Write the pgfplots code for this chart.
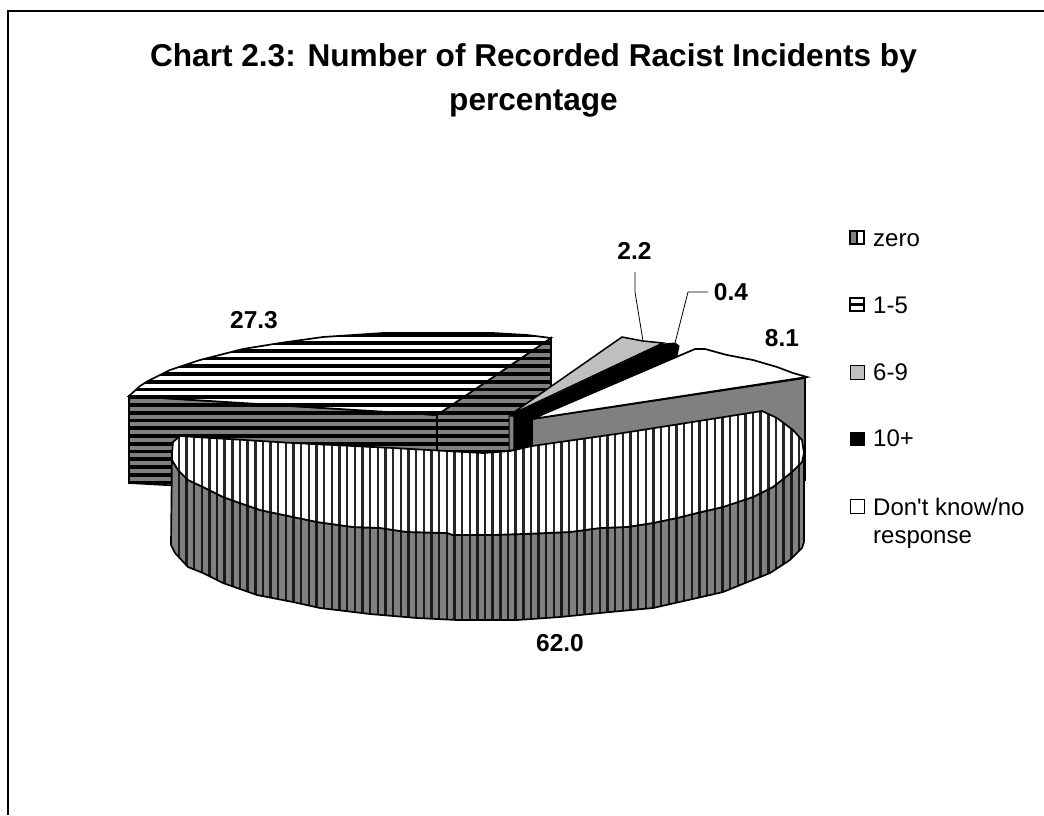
\documentclass[border=0pt]{standalone}
\usepackage{fontspec}
\setmainfont{Liberation Sans}[Ligatures=TeXOff]
\usepackage{pgfplots}
\pgfplotsset{compat=1.18}
\definecolor{sidegray}{gray}{0.5}
\definecolor{sixnine}{gray}{0.75}
\tikzset{
  valuelabel/.style={anchor=base,font=\fontsize{24.5}{28}\selectfont\bfseries},
  legendlabel/.style={anchor=base west,inner sep=0pt,font=\fontsize{24}{28}\selectfont},
  titleline/.style={anchor=base,font=\fontsize{31.6}{36}\selectfont\bfseries},
}
% hatching of the pie faces, one zigzag per direction; the turns lie outside the clipped faces
\newcommand{\vertstripes}[1]{\addplot[#1] coordinates {
(171.0,395)(171.0,630)(178.7,630)(178.7,395)(186.4,395)(186.4,630)(194.0,630)(194.0,395)(201.7,395)(201.7,630)
(209.3,630)(209.3,395)(217.0,395)(217.0,630)(224.6,630)(224.6,395)(232.3,395)(232.3,630)(239.9,630)(239.9,395)
(247.6,395)(247.6,630)(255.3,630)(255.3,395)(262.9,395)(262.9,630)(270.6,630)(270.6,395)(278.2,395)(278.2,630)
(285.9,630)(285.9,395)(293.6,395)(293.6,630)(301.2,630)(301.2,395)(308.9,395)(308.9,630)(316.5,630)(316.5,395)
(324.2,395)(324.2,630)(331.8,630)(331.8,395)(339.5,395)(339.5,630)(347.2,630)(347.2,395)(354.8,395)(354.8,630)
(362.5,630)(362.5,395)(370.1,395)(370.1,630)(377.8,630)(377.8,395)(385.4,395)(385.4,630)(393.1,630)(393.1,395)
(400.8,395)(400.8,630)(408.4,630)(408.4,395)(416.1,395)(416.1,630)(423.7,630)(423.7,395)(431.4,395)(431.4,630)
(439.0,630)(439.0,395)(446.7,395)(446.7,630)(454.4,630)(454.4,395)(462.0,395)(462.0,630)(469.7,630)(469.7,395)
(477.3,395)(477.3,630)(485.0,630)(485.0,395)(492.6,395)(492.6,630)(500.3,630)(500.3,395)(508.0,395)(508.0,630)
(515.6,630)(515.6,395)(523.3,395)(523.3,630)(530.9,630)(530.9,395)(538.6,395)(538.6,630)(546.2,630)(546.2,395)
(553.9,395)(553.9,630)(561.6,630)(561.6,395)(569.2,395)(569.2,630)(576.9,630)(576.9,395)(584.5,395)(584.5,630)
(592.2,630)(592.2,395)(599.8,395)(599.8,630)(607.5,630)(607.5,395)(615.2,395)(615.2,630)(622.8,630)(622.8,395)
(630.5,395)(630.5,630)(638.1,630)(638.1,395)(645.8,395)(645.8,630)(653.4,630)(653.4,395)(661.1,395)(661.1,630)
(668.8,630)(668.8,395)(676.4,395)(676.4,630)(684.1,630)(684.1,395)(691.7,395)(691.7,630)(699.4,630)(699.4,395)
(707.0,395)(707.0,630)(714.7,630)(714.7,395)(722.4,395)(722.4,630)(730.0,630)(730.0,395)(737.7,395)(737.7,630)
(745.3,630)(745.3,395)(753.0,395)(753.0,630)(760.6,630)(760.6,395)(768.3,395)(768.3,630)(776.0,630)(776.0,395)
(783.6,395)(783.6,630)(791.3,630)(791.3,395)(798.9,395)(798.9,630)};}
\newcommand{\horizstripes}[1]{\addplot[#1] coordinates {
(120,335.25)(560,335.25)(560,343.0)(120,343.0)(120,350.75)(560,350.75)(560,358.5)(120,358.5)
(120,366.25)(560,366.25)(560,374.0)(120,374.0)(120,381.75)(560,381.75)(560,389.5)(120,389.5)
(120,397.25)(560,397.25)(560,405.0)(120,405.0)(120,412.75)(560,412.75)(560,420.5)(120,420.5)
(120,428.25)(560,428.25)(560,436.0)(120,436.0)(120,443.75)(560,443.75)(560,451.5)(120,451.5)
(120,459.25)(560,459.25)(560,467.0)(120,467.0)(120,474.75)(560,474.75)(560,482.5)(120,482.5)};}
\begin{document}
\begin{tikzpicture}
\begin{axis}[
  scale only axis,width=1044pt,height=815pt,
  xmin=0,xmax=1044,ymin=0,ymax=815,y dir=reverse,
  axis lines=none,enlargelimits=false,
]
% page background and the frame's top and left rules
\addplot[fill=white,draw=none] coordinates {(0,0)(1044,0)(1044,815)(0,815)} -- cycle;
\addplot[black,line width=1.5pt] coordinates {(8,815)(8,11)(1044,11)};

% slice 1-5 (27.3): two side faces and the top
\addplot[fill=sidegray,draw=none] coordinates {(129,396)(437,415)(551,338)(551,425)(437,500)(129,483)} -- cycle;
\begin{scope}
\clip (129,396) -- (437,415) -- (551,338) -- (551,425) -- (437,500) -- (129,483) -- cycle;
\horizstripes{black,line width=3.9pt}
\end{scope}
\addplot[draw=black,line width=1.7pt] coordinates {(129,396)(437,415)(437,500)(129,483)} -- cycle;
\addplot[draw=black,line width=1.7pt] coordinates {(437,415)(551,338)(551,425)(437,500)} -- cycle;
\addplot[fill=white,draw=none] coordinates {(129,396)(140,386)(148,381)(170,370)(200,360)(243,349)(280,343)(323,337)(383,333)(493,333)(527,335)(551,338)(437,415)} -- cycle;
\begin{scope}
\clip (129,396) -- (140,386) -- (148,381) -- (170,370) -- (200,360) -- (243,349) -- (280,343) -- (323,337) -- (383,333) -- (493,333) -- (527,335) -- (551,338) -- (437,415) -- cycle;
\horizstripes{black,line width=3.9pt}
\end{scope}
\addplot[draw=black,line width=1.7pt] coordinates {(129,396)(140,386)(148,381)(170,370)(200,360)(243,349)(280,343)(323,337)(383,333)(493,333)(527,335)(551,338)(437,415)} -- cycle;

% slice 6-9 (2.2)
\addplot[fill=sidegray,draw=black,line width=1pt] coordinates {(509,415)(514,414)(514,450)(509,450)} -- cycle;
\addplot[fill=sixnine,draw=black,line width=1.5pt] coordinates {(510,415)(622,337)(643,341)(663,343)} -- cycle;

% slice 10+ (0.4)
\addplot[fill=black,draw=black,line width=1pt] coordinates {(514,415)(532,418)(532,450)(514,450)} -- cycle;
\addplot[fill=black,draw=black,line width=1pt] coordinates {(511,416)(663,344)(675,343)(679,346)(677,356)(532,418)} -- cycle;

% slice don't know (8.1)
\addplot[fill=sidegray,draw=black,line width=1.7pt] coordinates {(532,419)(805,378)(805,480)(532,480)} -- cycle;
\addplot[fill=white,draw=black,line width=1.7pt] coordinates {(532,419)(695,349)(705,349)(727,355)(753,360)(777,367)(793,373)(807,377)} -- cycle;

% slice zero (62.0): rim
\addplot[fill=sidegray,draw=none] coordinates {(172,455)(172,460)(178,470)(188,480)(203,487)(223,497)(237,502)(260,510)(293,517)(317,522)(353,527)(380,528)(407,532)(447,533)(453,535)(490,535)(523,534)(570,532)(600,528)(627,527)(653,523)(677,518)(697,513)(723,507)(753,497)(773,487)(792,472)(802,462)(804,453)(804,542)(802,548)(790,560)(770,573)(723,592)(697,598)(653,608)(610,612)(560,617)(517,620)(457,620)(417,618)(370,614)(320,608)(293,602)(257,595)(223,583)(203,573)(188,567)(175,553)(171,545)} -- cycle;
\begin{scope}
\clip (172,455) -- (172,460) -- (178,470) -- (188,480) -- (203,487) -- (223,497) -- (237,502) -- (260,510) -- (293,517) -- (317,522) -- (353,527) -- (380,528) -- (407,532) -- (447,533) -- (453,535) -- (490,535) -- (523,534) -- (570,532) -- (600,528) -- (627,527) -- (653,523) -- (677,518) -- (697,513) -- (723,507) -- (753,497) -- (773,487) -- (792,472) -- (802,462) -- (804,453) -- (804,542) -- (802,548) -- (790,560) -- (770,573) -- (723,592) -- (697,598) -- (653,608) -- (610,612) -- (560,617) -- (517,620) -- (457,620) -- (417,618) -- (370,614) -- (320,608) -- (293,602) -- (257,595) -- (223,583) -- (203,573) -- (188,567) -- (175,553) -- (171,545) -- cycle;
\vertstripes{black!90,line width=2.4pt}
\end{scope}
\addplot[draw=black,line width=1.7pt] coordinates {(172,455)(172,460)(178,470)(188,480)(203,487)(223,497)(237,502)(260,510)(293,517)(317,522)(353,527)(380,528)(407,532)(447,533)(453,535)(490,535)(523,534)(570,532)(600,528)(627,527)(653,523)(677,518)(697,513)(723,507)(753,497)(773,487)(792,472)(802,462)(804,453)(804,542)(802,548)(790,560)(770,573)(723,592)(697,598)(653,608)(610,612)(560,617)(517,620)(457,620)(417,618)(370,614)(320,608)(293,602)(257,595)(223,583)(203,573)(188,567)(175,553)(171,545)} -- cycle;

% slice zero (62.0): top
\addplot[fill=white,draw=none] coordinates {(180,436)(293,443)(393,448)(483,453)(510,451)(532,446)(623,433)(762,411)(777,418)(793,430)(802,440)(804,453)(802,462)(792,472)(773,487)(753,497)(723,507)(697,513)(677,518)(653,523)(627,527)(600,528)(570,532)(523,534)(490,535)(453,535)(447,533)(407,532)(380,528)(353,527)(317,522)(293,517)(260,510)(237,502)(223,497)(203,487)(188,480)(178,470)(172,460)(172,453)(173,442)} -- cycle;
\begin{scope}
\clip (180,436) -- (293,443) -- (393,448) -- (483,453) -- (510,451) -- (532,446) -- (623,433) -- (762,411) -- (777,418) -- (793,430) -- (802,440) -- (804,453) -- (802,462) -- (792,472) -- (773,487) -- (753,497) -- (723,507) -- (697,513) -- (677,518) -- (653,523) -- (627,527) -- (600,528) -- (570,532) -- (523,534) -- (490,535) -- (453,535) -- (447,533) -- (407,532) -- (380,528) -- (353,527) -- (317,522) -- (293,517) -- (260,510) -- (237,502) -- (223,497) -- (203,487) -- (188,480) -- (178,470) -- (172,460) -- (172,453) -- (173,442) -- cycle;
\vertstripes{black!85,line width=2.4pt}
\end{scope}
\addplot[draw=black,line width=1.7pt] coordinates {(180,436)(293,443)(393,448)(483,453)(510,451)(532,446)(623,433)(762,411)(777,418)(793,430)(802,440)(804,453)(802,462)(792,472)(773,487)(753,497)(723,507)(697,513)(677,518)(653,523)(627,527)(600,528)(570,532)(523,534)(490,535)(453,535)(447,533)(407,532)(380,528)(353,527)(317,522)(293,517)(260,510)(237,502)(223,497)(203,487)(188,480)(178,470)(172,460)(172,453)(173,442)} -- cycle;

% leader lines
\addplot[black,line width=0.8pt] coordinates {(635,272)(635,292)(643,341)};
\addplot[black,line width=0.8pt] coordinates {(708,292)(688,292)(675,343)};

% legend keys
\addplot[fill=white,draw=black,line width=1.3pt] coordinates {(850,231)(864,231)(864,244)(850,244)} -- cycle;
\addplot[fill=sidegray,draw=none] coordinates {(851,232)(857,232)(857,243)(851,243)} -- cycle;
\addplot[black,line width=1.5pt] coordinates {(857,231)(857,244)};
\addplot[fill=white,draw=black,line width=1.6pt] coordinates {(850,298)(864,298)(864,311)(850,311)} -- cycle;
\addplot[black,line width=2.5pt] coordinates {(850,304.5)(864,304.5)};
\addplot[fill=sixnine,draw=black,line width=1pt] coordinates {(850,365)(864,365)(864,379)(850,379)} -- cycle;
\addplot[fill=black,draw=black,line width=1pt] coordinates {(850,432)(864,432)(864,445)(850,445)} -- cycle;
\addplot[fill=white,draw=black,line width=1pt] coordinates {(850,499)(864,499)(864,513)(850,513)} -- cycle;

% title
\node[titleline] at (axis cs:533.5,66) {Chart 2.3: Number of Recorded Racist Incidents by};
\node[titleline] at (axis cs:533.5,110) {percentage};

% slice values
\node[valuelabel] at (axis cs:254,328) {27.3};
\node[valuelabel] at (axis cs:634.5,259) {2.2};
\node[valuelabel] at (axis cs:731,300) {0.4};
\node[valuelabel] at (axis cs:782,346) {8.1};
\node[valuelabel] at (axis cs:560,651) {62.0};

% legend entries
\node[legendlabel] at (axis cs:873,246) {zero};
\node[legendlabel] at (axis cs:873,313) {1-5};
\node[legendlabel] at (axis cs:873,380) {6-9};
\node[legendlabel] at (axis cs:873,446) {10+};
\node[legendlabel] at (axis cs:873,515) {Don't know/no};
\node[legendlabel] at (axis cs:873,543) {response};
\end{axis}
\end{tikzpicture}
\end{document}
